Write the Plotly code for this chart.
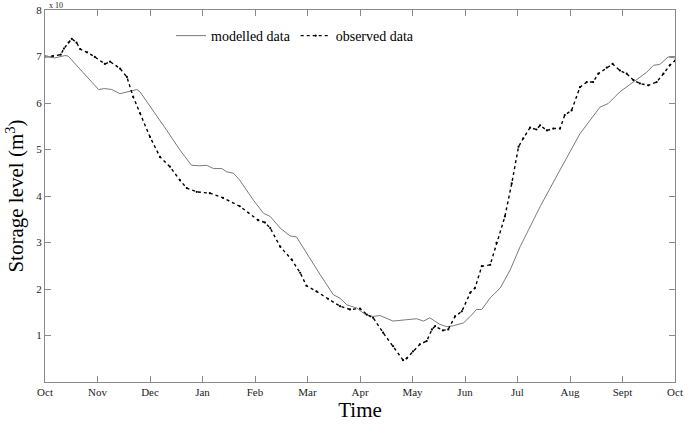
import plotly.graph_objects as go

month_labels = ["Oct", "Nov", "Dec", "Jan", "Feb", "Mar", "Apr", "May", "Jun", "Jul", "Aug", "Sept", "Oct"]

# time in months since 1 Oct, storage in units of 1e10 m3
modelled_t = [0.0, 0.03, 0.19, 0.38, 0.44, 0.60, 0.73, 1.02, 1.14, 1.27, 1.43, 1.59, 1.75, 1.81,
              2.06, 2.32, 2.57, 2.79, 2.95, 3.08, 3.21, 3.37, 3.46, 3.59, 3.71, 3.97, 4.16, 4.29,
              4.48, 4.67, 4.79, 4.98, 5.24, 5.49, 5.62, 5.75, 5.94, 6.10, 6.25, 6.38, 6.63, 6.89,
              7.08, 7.21, 7.33, 7.52, 7.65, 7.78, 7.97, 8.10, 8.22, 8.32, 8.48, 8.67, 8.86, 9.05,
              9.43, 9.81, 10.19, 10.57, 10.73, 10.95, 11.21, 11.46, 11.59, 11.71, 11.87, 11.97, 12.0]
modelled_v = [7.00, 6.99, 6.97, 7.02, 7.01, 6.81, 6.66, 6.29, 6.31, 6.29, 6.20, 6.24, 6.29, 6.24,
              5.84, 5.41, 4.99, 4.66, 4.65, 4.66, 4.59, 4.59, 4.52, 4.49, 4.34, 3.91, 3.63, 3.56,
              3.31, 3.14, 3.12, 2.77, 2.31, 1.88, 1.80, 1.66, 1.59, 1.45, 1.41, 1.43, 1.31, 1.34,
              1.36, 1.31, 1.38, 1.24, 1.19, 1.21, 1.27, 1.41, 1.56, 1.56, 1.81, 2.02, 2.41, 2.91,
              3.77, 4.56, 5.34, 5.91, 5.99, 6.24, 6.45, 6.66, 6.81, 6.83, 6.99, 6.97, 6.97]

observed_t = [0.0, 0.15, 0.30, 0.36, 0.45, 0.51, 0.60, 0.67, 0.80, 0.95, 1.14, 1.24, 1.43, 1.56,
              1.68, 1.81, 2.0, 2.19, 2.38, 2.57, 2.70, 2.89, 3.14, 3.39, 3.71, 4.06, 4.19, 4.29,
              4.48, 4.70, 4.86, 4.98, 5.17, 5.39, 5.62, 5.81, 6.0, 6.13, 6.25, 6.44, 6.63, 6.82,
              6.89, 7.01, 7.14, 7.27, 7.37, 7.43, 7.58, 7.68, 7.81, 7.94, 8.10, 8.19, 8.32, 8.48,
              8.60, 8.76, 8.89, 9.02, 9.11, 9.24, 9.36, 9.43, 9.56, 9.68, 9.81, 9.90, 10.03, 10.19,
              10.32, 10.44, 10.54, 10.70, 10.81, 10.95, 11.08, 11.21, 11.33, 11.49, 11.65, 11.78,
              11.90, 12.0]
observed_v = [7.00, 7.01, 7.04, 7.17, 7.30, 7.38, 7.30, 7.16, 7.09, 6.99, 6.84, 6.89, 6.74, 6.56,
              6.13, 5.78, 5.27, 4.84, 4.63, 4.34, 4.17, 4.09, 4.06, 3.96, 3.78, 3.48, 3.43, 3.31,
              2.91, 2.63, 2.35, 2.07, 1.95, 1.79, 1.63, 1.56, 1.58, 1.45, 1.38, 1.06, 0.77, 0.47,
              0.51, 0.66, 0.81, 0.88, 1.13, 1.20, 1.11, 1.13, 1.41, 1.52, 1.92, 2.02, 2.49, 2.52,
              2.99, 3.56, 4.27, 5.06, 5.24, 5.47, 5.43, 5.52, 5.41, 5.45, 5.45, 5.74, 5.84, 6.34,
              6.45, 6.45, 6.63, 6.76, 6.84, 6.70, 6.63, 6.49, 6.42, 6.38, 6.45, 6.63, 6.81, 6.91]

serif = "Liberation Serif"
frame = "#8a8a8a"

fig = go.Figure()
fig.add_trace(go.Scatter(x=modelled_t, y=modelled_v, mode="lines", name="modelled data",
                         line=dict(color="#7a7a7a", width=1)))
fig.add_trace(go.Scatter(x=observed_t, y=observed_v, mode="lines+markers", name="observed data",
                         line=dict(color="black", width=1.4, dash="dot"),
                         marker=dict(color="black", size=2.2)))

axis_common = dict(showgrid=False, zeroline=False, showline=True, linecolor=frame, linewidth=1,
                   mirror="ticks", ticks="inside", ticklen=6, tickcolor=frame, automargin=False,
                   tickfont=dict(family=serif, size=11, color="#222"))

fig.update_xaxes(range=[0, 12], tickvals=list(range(13)), ticktext=month_labels,
                 title=dict(text="Time", font=dict(family=serif, size=21, color="black"), standoff=3),
                 **axis_common)
fig.update_yaxes(range=[0, 8], tickvals=[1, 2, 3, 4, 5, 6, 7, 8],
                 title=dict(text="Storage level (m<sup>3</sup>)", font=dict(family=serif, size=21, color="black"), standoff=6),
                 **axis_common)

fig.add_annotation(text="x 10", x=0, y=1, xref="paper", yref="paper", xanchor="left", yanchor="bottom",
                   xshift=2, yshift=-2, showarrow=False, font=dict(family=serif, size=8, color="#222"))

fig.update_layout(
    width=685, height=425,
    margin=dict(l=45, r=10, t=10, b=43),
    plot_bgcolor="white", paper_bgcolor="white",
    legend=dict(orientation="h", x=0.2, y=0.93, xanchor="left", yanchor="middle",
                font=dict(family=serif, size=14, color="black"), bgcolor="rgba(0,0,0,0)",
                itemwidth=30, tracegroupgap=0),
)

fig.write_html("out.html", config={"displayModeBar": False},
               post_script="document.body.style.margin='0';")
